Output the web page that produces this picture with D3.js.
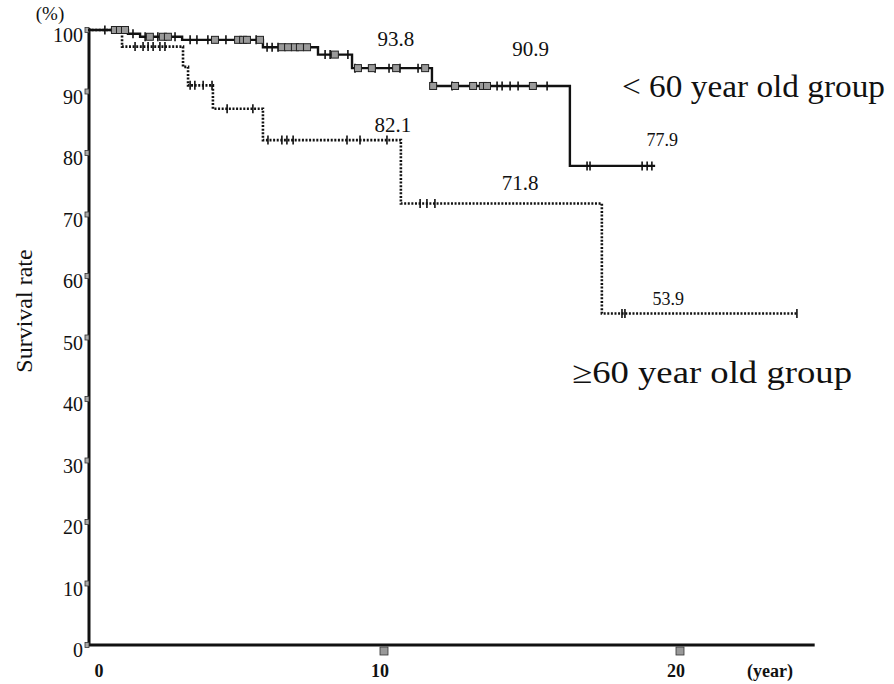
<!DOCTYPE html>
<html>
<head>
<meta charset="utf-8">
<script src="https://cdn.jsdelivr.net/npm/d3@7/dist/d3.min.js"></script>
<style>
  html, body { margin: 0; padding: 0; background: #fff; }
  svg { display: block; }
  text { font-family: "Liberation Serif", "Times New Roman", serif; fill: #111; }
</style>
</head>
<body>
<svg id="chart" width="894" height="684"></svg>
<script>
// ---------- DATA ----------
// < 60 year old group (solid): step start times (years) and survival (%)
const youngStepTimes  = [0, 1.35, 1.76, 3.18, 5.91, 7.77, 8.92, 11.62, 16.28];
const youngStepValues = [100, 99.4, 98.9, 98.4, 97.2, 96.0, 93.8, 90.9, 77.9];
const youngEndTime = 19.16;
// censored observations (single ticks) and clustered censorings (grey boxes)
const youngCensorTicks = [0.57, 1.52, 1.93, 2.36, 2.94, 3.45, 3.68, 4.05, 4.66, 5.68,
  6.05, 6.22, 6.42, 8.01, 8.18, 8.78, 9.02, 9.70, 10.17, 10.54, 11.15,
  12.30, 13.82, 13.99, 14.26, 14.53, 15.51, 16.86, 16.96, 18.72, 18.89, 19.05];
const youngCensorBoxes = [0.91, 1.08, 1.25, 2.09, 2.53, 2.70, 4.29, 5.07, 5.24, 5.37, 5.81,
  6.55, 6.76, 6.99, 7.16, 7.40, 8.34, 9.12, 9.59, 10.41, 11.39,
  11.66, 12.40, 13.01, 13.34, 13.48, 15.03];

// >= 60 year old group (dotted)
const oldStepTimes  = [0, 1.15, 3.21, 3.38, 4.22, 5.91, 10.57, 17.36];
const oldStepValues = [100, 97.3, 94.0, 91.0, 87.2, 82.1, 71.8, 53.9];
const oldEndTime = 23.95;
const oldCensorTicks = [1.59, 1.86, 2.03, 2.20, 2.43, 2.60, 3.45, 3.61, 3.89, 4.19,
  4.70, 5.57, 6.08, 6.55, 6.72, 6.93, 8.75, 9.19, 10.10, 11.22, 11.45, 11.72,
  18.04, 18.14, 23.95];

// axes
const yTickValues = [0, 10, 20, 30, 40, 50, 60, 70, 80, 90, 100];
const xTickValues = [0, 10, 20];
const xMajorMarks = [10, 20];

// annotation values
const annotationLabels = ["93.8", "90.9", "82.1", "71.8", "77.9", "53.9"];
const groupLabels = ["< 60 year old group", "\u226560 year old group"];

// ---------- LAYOUT ----------
const svg = d3.select("#chart");
const x = d3.scaleLinear().domain([0, 20]).range([88, 680]);
const y = d3.scaleLinear().domain([0, 100]).range([645, 30]);

const annotationPos = [
  {t: 10.4, v: 98.5, size: 21},
  {t: 14.95, v: 96.9, size: 21},
  {t: 10.3, v: 84.6, size: 21},
  {t: 14.6, v: 75.1, size: 21},
  {t: 19.4, v: 82.1, size: 18},
  {t: 19.6, v: 56.3, size: 18}
];

function stepValueAt(times, values, t) {
  let v = values[0];
  for (let i = 0; i < times.length; i++) if (times[i] <= t) v = values[i];
  return v;
}

function curvePoints(times, values, end) {
  const pts = times.map((t, i) => [t, values[i]]);
  pts.push([end, values[values.length - 1]]);
  return pts;
}

const line = d3.line()
  .x(d => x(d[0]))
  .y(d => y(d[1]))
  .curve(d3.curveStepAfter);

// ---------- AXES ----------
const gAxes = svg.append("g");
gAxes.append("line")
  .attr("x1", x(0) + 1).attr("x2", x(0) + 1)
  .attr("y1", y(100) - 2).attr("y2", y(0) + 1)
  .attr("stroke", "#111").attr("stroke-width", 3);
gAxes.append("line")
  .attr("x1", x(0)).attr("x2", x(24.55))
  .attr("y1", y(0)).attr("y2", y(0))
  .attr("stroke", "#111").attr("stroke-width", 3.2);

// y tick marks (small grey squares) and labels
gAxes.selectAll(".ytick").data(yTickValues).join("rect")
  .attr("x", x(0) - 3).attr("y", d => y(d) - 2.5)
  .attr("width", 4).attr("height", 5)
  .attr("fill", "#aaa").attr("stroke", "#333").attr("stroke-width", 0.8);
gAxes.selectAll(".ylab").data(yTickValues).join("text")
  .attr("x", x(0) - 5).attr("y", d => y(d) + 12)
  .attr("text-anchor", "end")
  .attr("font-size", 20)
  .text(d => d);

// x tick marks (grey squares under the axis)
gAxes.selectAll(".xtick").data(xMajorMarks).join("rect")
  .attr("x", d => x(d) - 4).attr("y", y(0) + 2)
  .attr("width", 8).attr("height", 8)
  .attr("fill", "#999").attr("stroke", "#333").attr("stroke-width", 0.8);
gAxes.selectAll(".xlab").data(xTickValues).join("text")
  .attr("x", d => d === 0 ? x(d) + 11 : x(d) - 4)
  .attr("y", 677)
  .attr("text-anchor", "middle")
  .attr("font-size", 18).attr("font-weight", "bold")
  .text(d => d);
gAxes.append("text")
  .attr("x", 770).attr("y", 677)
  .attr("text-anchor", "middle")
  .attr("font-size", 18).attr("font-weight", "bold")
  .text("(year)");
gAxes.append("text")
  .attr("x", 50).attr("y", 20)
  .attr("text-anchor", "middle")
  .attr("font-size", 19)
  .text("(%)");
gAxes.append("text")
  .attr("transform", "translate(32,311) rotate(-90)")
  .attr("text-anchor", "middle")
  .attr("font-size", 24)
  .text("Survival rate");

// ---------- CURVES ----------
const gCurves = svg.append("g");
gCurves.append("path")
  .attr("d", line(curvePoints(oldStepTimes, oldStepValues, oldEndTime)))
  .attr("fill", "none").attr("stroke", "#111")
  .attr("stroke-width", 2.6).attr("stroke-dasharray", "2,1.6");
gCurves.append("path")
  .attr("d", line(curvePoints(youngStepTimes, youngStepValues, youngEndTime)))
  .attr("fill", "none").attr("stroke", "#111")
  .attr("stroke-width", 2.4);

function drawTicks(times, stepTimes, stepValues) {
  gCurves.append("g").selectAll("line").data(times).join("line")
    .attr("x1", d => x(d)).attr("x2", d => x(d))
    .attr("y1", d => y(stepValueAt(stepTimes, stepValues, d)) - 4.5)
    .attr("y2", d => y(stepValueAt(stepTimes, stepValues, d)) + 4.5)
    .attr("stroke", "#111").attr("stroke-width", 1.6);
}
drawTicks(oldCensorTicks, oldStepTimes, oldStepValues);
drawTicks(youngCensorTicks, youngStepTimes, youngStepValues);

gCurves.append("g").selectAll("rect").data(youngCensorBoxes).join("rect")
  .attr("x", d => x(d) - 3.5)
  .attr("y", d => y(stepValueAt(youngStepTimes, youngStepValues, d)) - 3.5)
  .attr("width", 7).attr("height", 7)
  .attr("fill", "#9a9a9a").attr("stroke", "#222").attr("stroke-width", 1);

// ---------- ANNOTATIONS ----------
svg.append("g").selectAll("text").data(annotationLabels).join("text")
  .attr("x", (d, i) => x(annotationPos[i].t))
  .attr("y", (d, i) => y(annotationPos[i].v) + annotationPos[i].size * 0.34)
  .attr("text-anchor", "middle")
  .attr("font-size", (d, i) => annotationPos[i].size)
  .text(d => d);

svg.append("text")
  .attr("x", 622).attr("y", 97)
  .attr("font-size", 31)
  .attr("textLength", 263).attr("lengthAdjust", "spacingAndGlyphs")
  .text(groupLabels[0]);
svg.append("text")
  .attr("x", 572).attr("y", 383)
  .attr("font-size", 31)
  .attr("textLength", 280).attr("lengthAdjust", "spacingAndGlyphs")
  .text(groupLabels[1]);
</script>
</body>
</html>
